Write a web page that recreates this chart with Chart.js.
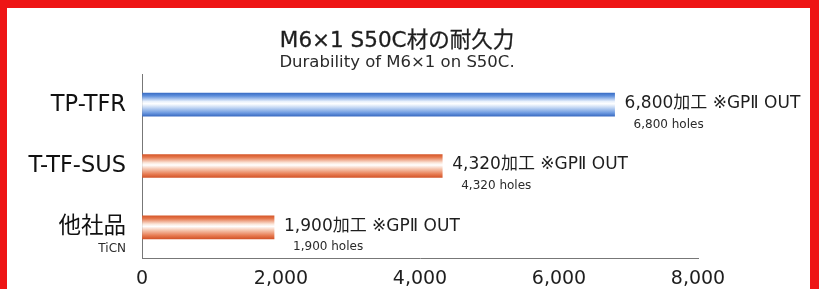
<!DOCTYPE html>
<html>
<head>
<meta charset="utf-8">
<script src="https://cdn.jsdelivr.net/npm/chart.js@4"></script>
<style>
  body { margin: 0; background: #fff; }
  #wrap { position: relative; width: 819px; height: 289px; overflow: hidden; background: #fff; }
  #chart { position: absolute; left: 0; top: 0; }
  .title { position: absolute; left: 0; width: 794px; text-align: center; color: #1e1e1e;
           font-family: 'DejaVu Sans', 'Noto Sans CJK JP', sans-serif; white-space: nowrap; }
  #title { top: 27px; font-size: 21.5px; line-height: 26px; -webkit-text-stroke: 0.3px #1e1e1e; }
  #subtitle { top: 52px; font-size: 16.5px; line-height: 20px; color: #2a2a2a; }
  #frame { position: absolute; left: 0; top: 0; width: 803px; height: 300px;
           border-left: 7px solid #ee1515; border-top: 8px solid #ee1515; border-right: 9px solid #ee1515;
           pointer-events: none; }
</style>
</head>
<body>
<div id="wrap">
  <canvas id="chart" width="819" height="289"></canvas>
  <div id="title" class="title">M6×1 S50C材の耐久力</div>
  <div id="subtitle" class="title">Durability of M6×1 on S50C.</div>
  <div id="frame"></div>
</div>
<script>
const FONT = "'DejaVu Sans', 'Noto Sans CJK JP', sans-serif";

const categories = ['TP-TFR', 'T-TF-SUS', '他社品'];
const categoryNotes = ['', '', 'TiCN'];
const holes = [6800, 4320, 1900];
const barTones = ['blue', 'orange', 'orange'];
const xTickValues = [0, 2000, 4000, 6000, 8000];

const gradientStops = {
    blue: ['#3c6fc6', '#5e8fdc', '#e9f1fc', '#ffffff', '#c6d9f4', '#6c99e0', '#3b6cc2'],
    orange: ['#d6572a', '#e5774c', '#fbe6da', '#ffffff', '#f6c8b2', '#e77a50', '#d3552a']
};
const stopPos = [0, 0.12, 0.36, 0.46, 0.62, 0.86, 1];
const BAR_H = 23;

function barFill(context) {
    const chart = context.chart;
    const yScale = chart.scales.y;
    if (!chart.chartArea || !yScale) return '#888';
    const yc = yScale.getPixelForValue(context.dataIndex);
    const g = chart.ctx.createLinearGradient(0, yc - BAR_H / 2, 0, yc + BAR_H / 2);
    const cols = gradientStops[barTones[context.dataIndex]];
    stopPos.forEach((p, i) => g.addColorStop(p, cols[i]));
    return g;
}

// value labels next to each bar and the small note under a category
const labelPlugin = {
    id: 'barLabels',
    afterDatasetsDraw(chart) {
        const ctx = chart.ctx;
        const meta = chart.getDatasetMeta(0);
        ctx.save();
        ctx.textBaseline = 'middle';
        ctx.textAlign = 'left';
        meta.data.forEach((bar, i) => {
            const txt = holes[i].toLocaleString('en-US');
            ctx.fillStyle = '#1e1e1e';
            ctx.font = '17px ' + FONT;
            ctx.fillText(txt + '加工 ※GPⅡ OUT', bar.x + 10, bar.y - 1);
            ctx.fillStyle = '#2a2a2a';
            ctx.font = '12px ' + FONT;
            ctx.fillText(txt + ' holes', bar.x + 19, bar.y + 20);
        });
        const yScale = chart.scales.y;
        ctx.textAlign = 'right';
        ctx.font = '12px ' + FONT;
        ctx.fillStyle = '#2a2a2a';
        categoryNotes.forEach((note, i) => {
            if (!note) return;
            ctx.fillText(note, chart.chartArea.left - 16, yScale.getPixelForValue(i) + 22);
        });
        ctx.restore();
    }
};

new Chart(document.getElementById('chart'), {
    type: 'bar',
    data: {
        labels: categories,
        datasets: [{
            data: holes,
            backgroundColor: barFill,
            borderWidth: 0,
            barThickness: BAR_H
        }]
    },
    options: {
        indexAxis: 'y',
        responsive: false,
        animation: false,
        layout: { padding: { top: 74, right: 121, left: 0, bottom: 0 } },
        plugins: {
            legend: { display: false },
            tooltip: { enabled: false }
        },
        scales: {
            x: {
                min: 0,
                max: 8000,
                afterBuildTicks: (scale) => { scale.ticks = xTickValues.map(v => ({ value: v })); },
                afterFit: (scale) => { scale.height = 31; },
                grid: { drawOnChartArea: false, drawTicks: false },
                border: { color: '#777', width: 1 },
                ticks: {
                    padding: 10,
                    color: '#1e1e1e',
                    font: { family: FONT, size: 19 },
                    callback: (v) => Number(v).toLocaleString('en-US')
                }
            },
            y: {
                afterFit: (scale) => { scale.width = 142; },
                grid: { display: false, drawTicks: false },
                border: { color: '#777', width: 1 },
                ticks: {
                    padding: 16,
                    color: '#111',
                    font: { family: FONT, size: 22.5 }
                }
            }
        }
    },
    plugins: [labelPlugin]
});
</script>
</body>
</html>
